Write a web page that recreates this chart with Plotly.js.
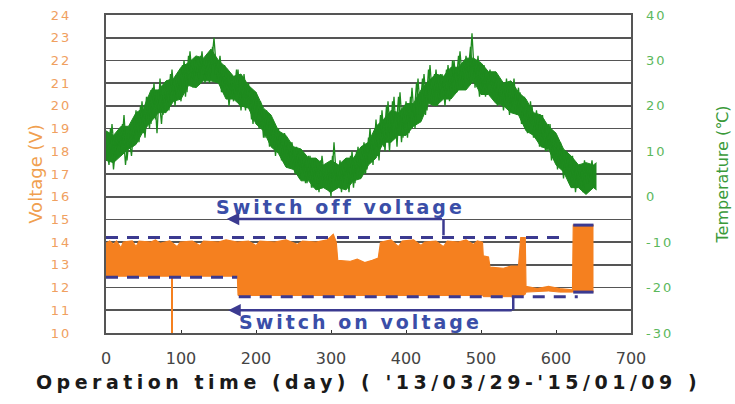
<!DOCTYPE html>
<html><head><meta charset="utf-8">
<script src="https://cdn.plot.ly/plotly-3.0.1.min.js"></script>
<style>
html,body{margin:0;padding:0;background:#fff;}
#chart{width:735px;height:404px;}
.xtitle{letter-spacing:4.5px;}
.ytick text,.y2tick text{letter-spacing:2px;}
.annotation-text{letter-spacing:3px;}
</style></head><body><div id="chart"></div>
<script>
// Temperature (right axis, °C), read every ~4 days
const tempDays = [0,4,8,12,16,20,24,28,32,36,40,44,48,52,56,60,64,68,72,76,80,84,88,92,96,100,104,108,112,116,120,124,128,132,136,140,144,148,152,156,160,164,168,172,176,180,184,188,192,196,200,204,208,212,216,220,224,228,232,236,240,244,248,252,256,260,264,268,272,276,280,284,288,292,296,300,304,308,312,316,320,324,328,332,336,340,344,348,352,356,360,364,368,372,376,380,384,388,392,396,400,404,408,412,416,420,424,428,432,436,440,444,448,452,456,460,464,468,472,476,480,484,488,492,496,500,504,508,512,516,520,524,528,532,536,540,544,548,552,556,560,564,568,572,576,580,584,588,592,596,600,604,608,612,616,620,624,628,632,636,640,644,648,652];
const tempC = [12,7,16,8,14,9,18,8,15,11, 19,12,21,13,22,16,25,14,26,18, 24,19,28,20,27,21,30,23,32,24, 30,26,32,25,31,28,35,26,31,24, 28,20,26,22,28,19,27,21,24,16, 23,15,19,13,18,12,16,10,14,8, 13,7,12,5,10,5,9,3,9,2, 7,1,9,3,7,0,12,2,8,3, 8,1,10,3,11,5,12,6,15,7, 17,8,19,10,21,12,22,11,23,13, 21,14,24,15,26,17,27,19,29,20, 28,21,27,20,29,22,30,23,32,24, 31,25,36,24,31,23,29,24,28,22, 26,21,25,20,25,19,26,18,23,16, 21,15,20,13,18,12,17,10,16,9, 12,7,10,5,9,3,8,2,7,1, 6,3,8,2];
// in-between readings (days 2, 6, 10, ...)
const tempDays2 = [2,6,10,14,18,22,26,30,34,38,42,46,50,54,58,62,66,70,74,78,82,86,90,94,98,102,106,110,114,118,122,126,130,134,138,142,146,150,154,158,162,166,170,174,178,182,186,190,194,198,202,206,210,214,218,222,226,230,234,238,242,246,250,254,258,262,266,270,274,278,282,286,290,294,298,302,306,310,314,318,322,326,330,334,338,342,346,350,354,358,362,366,370,374,378,382,386,390,394,398,402,406,410,414,418,422,426,430,434,438,442,446,450,454,458,462,466,470,474,478,482,486,490,494,498,502,506,510,514,518,522,526,530,534,538,542,546,550,554,558,562,566,570,574,578,582,586,590,594,598,602,606,610,614,618,622,626,630,634,638,642,646,650];
const tempC2 = [9,15,6,13,10,16,7,14,9,17, 12,20,14,22,15,24,17,23,16,25, 19,27,21,26,22,29,22,31,25,30, 25,31,27,30,25,33,27,30,23,29, 22,27,21,28,20,26,19,25,17,23, 16,21,13,19,11,17,9,15,8,14, 7,12,6,11,4,10,3,9,2,8, 3,8,2,6,1,9,2,7,1,8, 3,9,2,10,4,11,5,13,8,14, 9,18,11,20,10,21,13,22,12,20, 13,22,16,25,18,26,18,28,21,27, 20,27,22,28,21,30,23,31,24,30, 26,33,25,30,22,29,22,27,23,27, 20,25,19,26,18,24,19,24,16,22, 14,21,13,19,11,18,10,16,8,14, 6,12,4,10,3,9,1,7,2,8, 3,7,2];
// dense core of the temperature band
const coreDays = [0,10,20,30,40,50,60,70,80,90,100,110,120,130,140,150,160,170,180,190,200,210,220,230,240,250,260,270,280,290,300,310,320,330,340,350,360,370,380,390,400,410,420,430,440,450,460,470,480,490,500,510,520,530,540,550,560,570,580,590,600,610,620,630,640,650,654];
const coreLow = [8,7.5,9,10.5,11.5,14.5,16.5,18.5,18.5,21,21.5,24.5,24,25.5,25.5,25,21.5,21.5,20,19.5,16,14.5,11,9.5,6.5,6,3.5,3.5,1.5,2,1,2,1.5,3.5,4,7,8.5,12,12,13.5,13.5,15.5,16.5,20.5,20,21.5,21.5,23.5,23.5,25.5,22.5,22.5,20.5,20,18.5,18,14.5,13.5,11,10.5,7,5.5,2,2,0.5,2,1.5];
const coreHigh = [14.5,13.5,15.5,15.5,18.5,19.5,23.5,23.5,25.5,26,28.5,29.5,31,30.5,32.5,30,28.5,26.5,27,24.5,23,19.5,18,14.5,13.5,11,10.5,8.5,8.5,7,8,7,8.5,8.5,11,12,15.5,17,19,18.5,20.5,20.5,23.5,25.5,27,26.5,28.5,28.5,30.5,30.5,29.5,27.5,27.5,25,25.5,23,21.5,18.5,18,15.5,14,10.5,9,7,7.5,7,7.5];

// Voltage band (left axis, V): top and bottom edges of the orange band
const upperDays = [0,5,10,14,20,23,35,40,44,60,66,72,85,95,99,115,125,130,150,160,175,190,200,205,225,240,255,262,280,295,303,307,309,325,335,345,355,363,366,380,390,395,410,420,425,440,450,455,470,480,490,495,502,503,510,512,530,540,550,553,559,560,575,590,605,622,623,650];
const upperV = [13.95,14.05,13.9,14.05,13.75,14.0,14.05,13.8,14.05,14.0,14.1,13.95,14.05,13.8,14.0,14.05,13.85,14.05,14.0,14.1,14.0,14.05,13.85,14.05,14.0,14.1,13.9,14.05,14.0,14.1,14.35,14.0,13.2,13.15,13.25,13.1,13.2,13.3,14.0,14.1,13.8,14.05,14.1,13.85,14.0,14.05,13.8,14.05,14.0,14.1,13.9,14.05,14.0,13.4,13.35,12.9,12.85,12.95,12.95,14.2,14.2,12.05,11.95,12.05,11.95,11.9,14.75,14.75];
const lowerDays = [0,175,176,502,503,553,559,560,590,605,622,623,650];
const lowerV = [12.5,12.5,11.65,11.65,11.6,11.6,11.7,11.8,11.85,11.8,11.8,11.8,11.8];
// single downward spike
const spikeDays = [88,88];
const spikeV = [12.5,10];

// threshold lines
const offDays = [0,613];
const offV = [14.2,14.2];
const onDays = [0,175,null,177,629];
const onV = [12.45,12.45,null,11.6,11.6];
const capDays = [623,650];
const capOffV = [14.75,14.75];
const capOnV = [11.8,11.8];

const xTicks = [0,100,200,300,400,500,600,700];
const vTicks = [10,11,12,13,14,15,16,17,18,19,20,21,22,23,24];
const tTicks = [-30,-20,-10,0,10,20,30,40];

const ORANGE = '#f5801f';
const GREEN = '#1e8a1e';
const NAVY = '#3b3a90';
const BLUE = '#3a4ea8';
const FONT = 'DejaVu Sans, sans-serif';

const traces = [
  {x: lowerDays, y: lowerV, type:'scatter', mode:'lines', line:{color:ORANGE,width:1}},
  {x: upperDays, y: upperV, type:'scatter', mode:'lines', fill:'tonexty', fillcolor:ORANGE, line:{color:ORANGE,width:1.2}},
  {x: spikeDays, y: spikeV, type:'scatter', mode:'lines', line:{color:ORANGE,width:2}},
  {x: offDays, y: offV, type:'scatter', mode:'lines', line:{color:NAVY,width:3,dash:'12px,9px'}},
  {x: onDays, y: onV, type:'scatter', mode:'lines', line:{color:NAVY,width:3,dash:'12px,9px'}, connectgaps:false},
  {x: capDays, y: capOffV, type:'scatter', mode:'lines', line:{color:NAVY,width:3}},
  {x: capDays, y: capOnV, type:'scatter', mode:'lines', line:{color:NAVY,width:3}},
  {x: coreDays, y: coreLow, type:'scatter', mode:'lines', yaxis:'y2', line:{color:GREEN,width:1}},
  {x: coreDays, y: coreHigh, type:'scatter', mode:'lines', yaxis:'y2', fill:'tonexty', fillcolor:GREEN, line:{color:GREEN,width:1}},
  {x: tempDays, y: tempC, type:'scatter', mode:'lines', yaxis:'y2', line:{color:GREEN,width:1.3}},
  {x: tempDays2, y: tempC2, type:'scatter', mode:'lines', yaxis:'y2', line:{color:GREEN,width:1.3}}
];

const layout = {
  width:735, height:404,
  margin:{l:106,r:104,t:15,b:71},
  paper_bgcolor:'#fff', plot_bgcolor:'#fff',
  showlegend:false,
  font:{family:FONT},
  xaxis:{range:[0,700], tickvals:xTicks, ticktext:xTicks.map(String), showgrid:false, zeroline:false,
    showline:true, linecolor:'#555', linewidth:2, mirror:true, ticks:'inside', ticklen:3, tickcolor:'#333',
    tickfont:{family:FONT,size:16,color:'#444'}, ticklabelstandoff:10,
    title:{text:"<b>Operation time (day) ( '13/03/29-'15/01/09 )</b>", font:{family:FONT,size:19,color:'#1a1a1a'}, standoff:8}},
  yaxis:{range:[10,24], tickvals:vTicks, ticktext:vTicks.map(String), showgrid:true, gridcolor:'#555', gridwidth:1.6,
    zeroline:false, showline:true, linecolor:'#555', linewidth:2, mirror:true, ticks:'',
    tickfont:{family:FONT,size:13,color:'#f0a060'}, ticklabelstandoff:30,
    title:{text:'Voltage (V)', font:{family:FONT,size:18,color:'#f0a050'}, standoff:4}},
  yaxis2:{range:[-30,40], tickvals:tTicks, ticktext:tTicks.map(String), overlaying:'y', side:'right', showgrid:false,
    zeroline:false, showline:false, ticks:'',
    tickfont:{family:FONT,size:13,color:'#5cb85c'}, ticklabelstandoff:14,
    title:{text:'Temperature (℃)', font:{family:FONT,size:16,color:'#3a9a3a'}, standoff:44}},
  annotations:[
    {x:312, y:15.55, xref:'x', yref:'y', text:'<b>Switch off voltage</b>', showarrow:false, font:{family:FONT,size:19,color:BLUE}},
    {x:339, y:10.48, xref:'x', yref:'y', text:'<b>Switch on voltage</b>', showarrow:false, font:{family:FONT,size:19,color:BLUE}},
    {x:161, y:15.02, xref:'x', yref:'y', ax:450, ay:15.02, axref:'x', ayref:'y', text:'', showarrow:true, arrowhead:2, arrowsize:1, arrowwidth:2.5, arrowcolor:NAVY},
    {x:163, y:11.0, xref:'x', yref:'y', ax:543, ay:11.0, axref:'x', ayref:'y', text:'', showarrow:true, arrowhead:2, arrowsize:1, arrowwidth:2.5, arrowcolor:NAVY}
  ],
  shapes:[
    {type:'line', xref:'x', yref:'y', x0:450, x1:450, y0:15.02, y1:14.3, line:{color:NAVY,width:2.5}},
    {type:'line', xref:'x', yref:'y', x0:543, x1:543, y0:11.0, y1:11.55, line:{color:NAVY,width:2.5}}
  ]
};

Plotly.newPlot('chart', traces, layout, {staticPlot:true, displayModeBar:false});
</script></body></html>
